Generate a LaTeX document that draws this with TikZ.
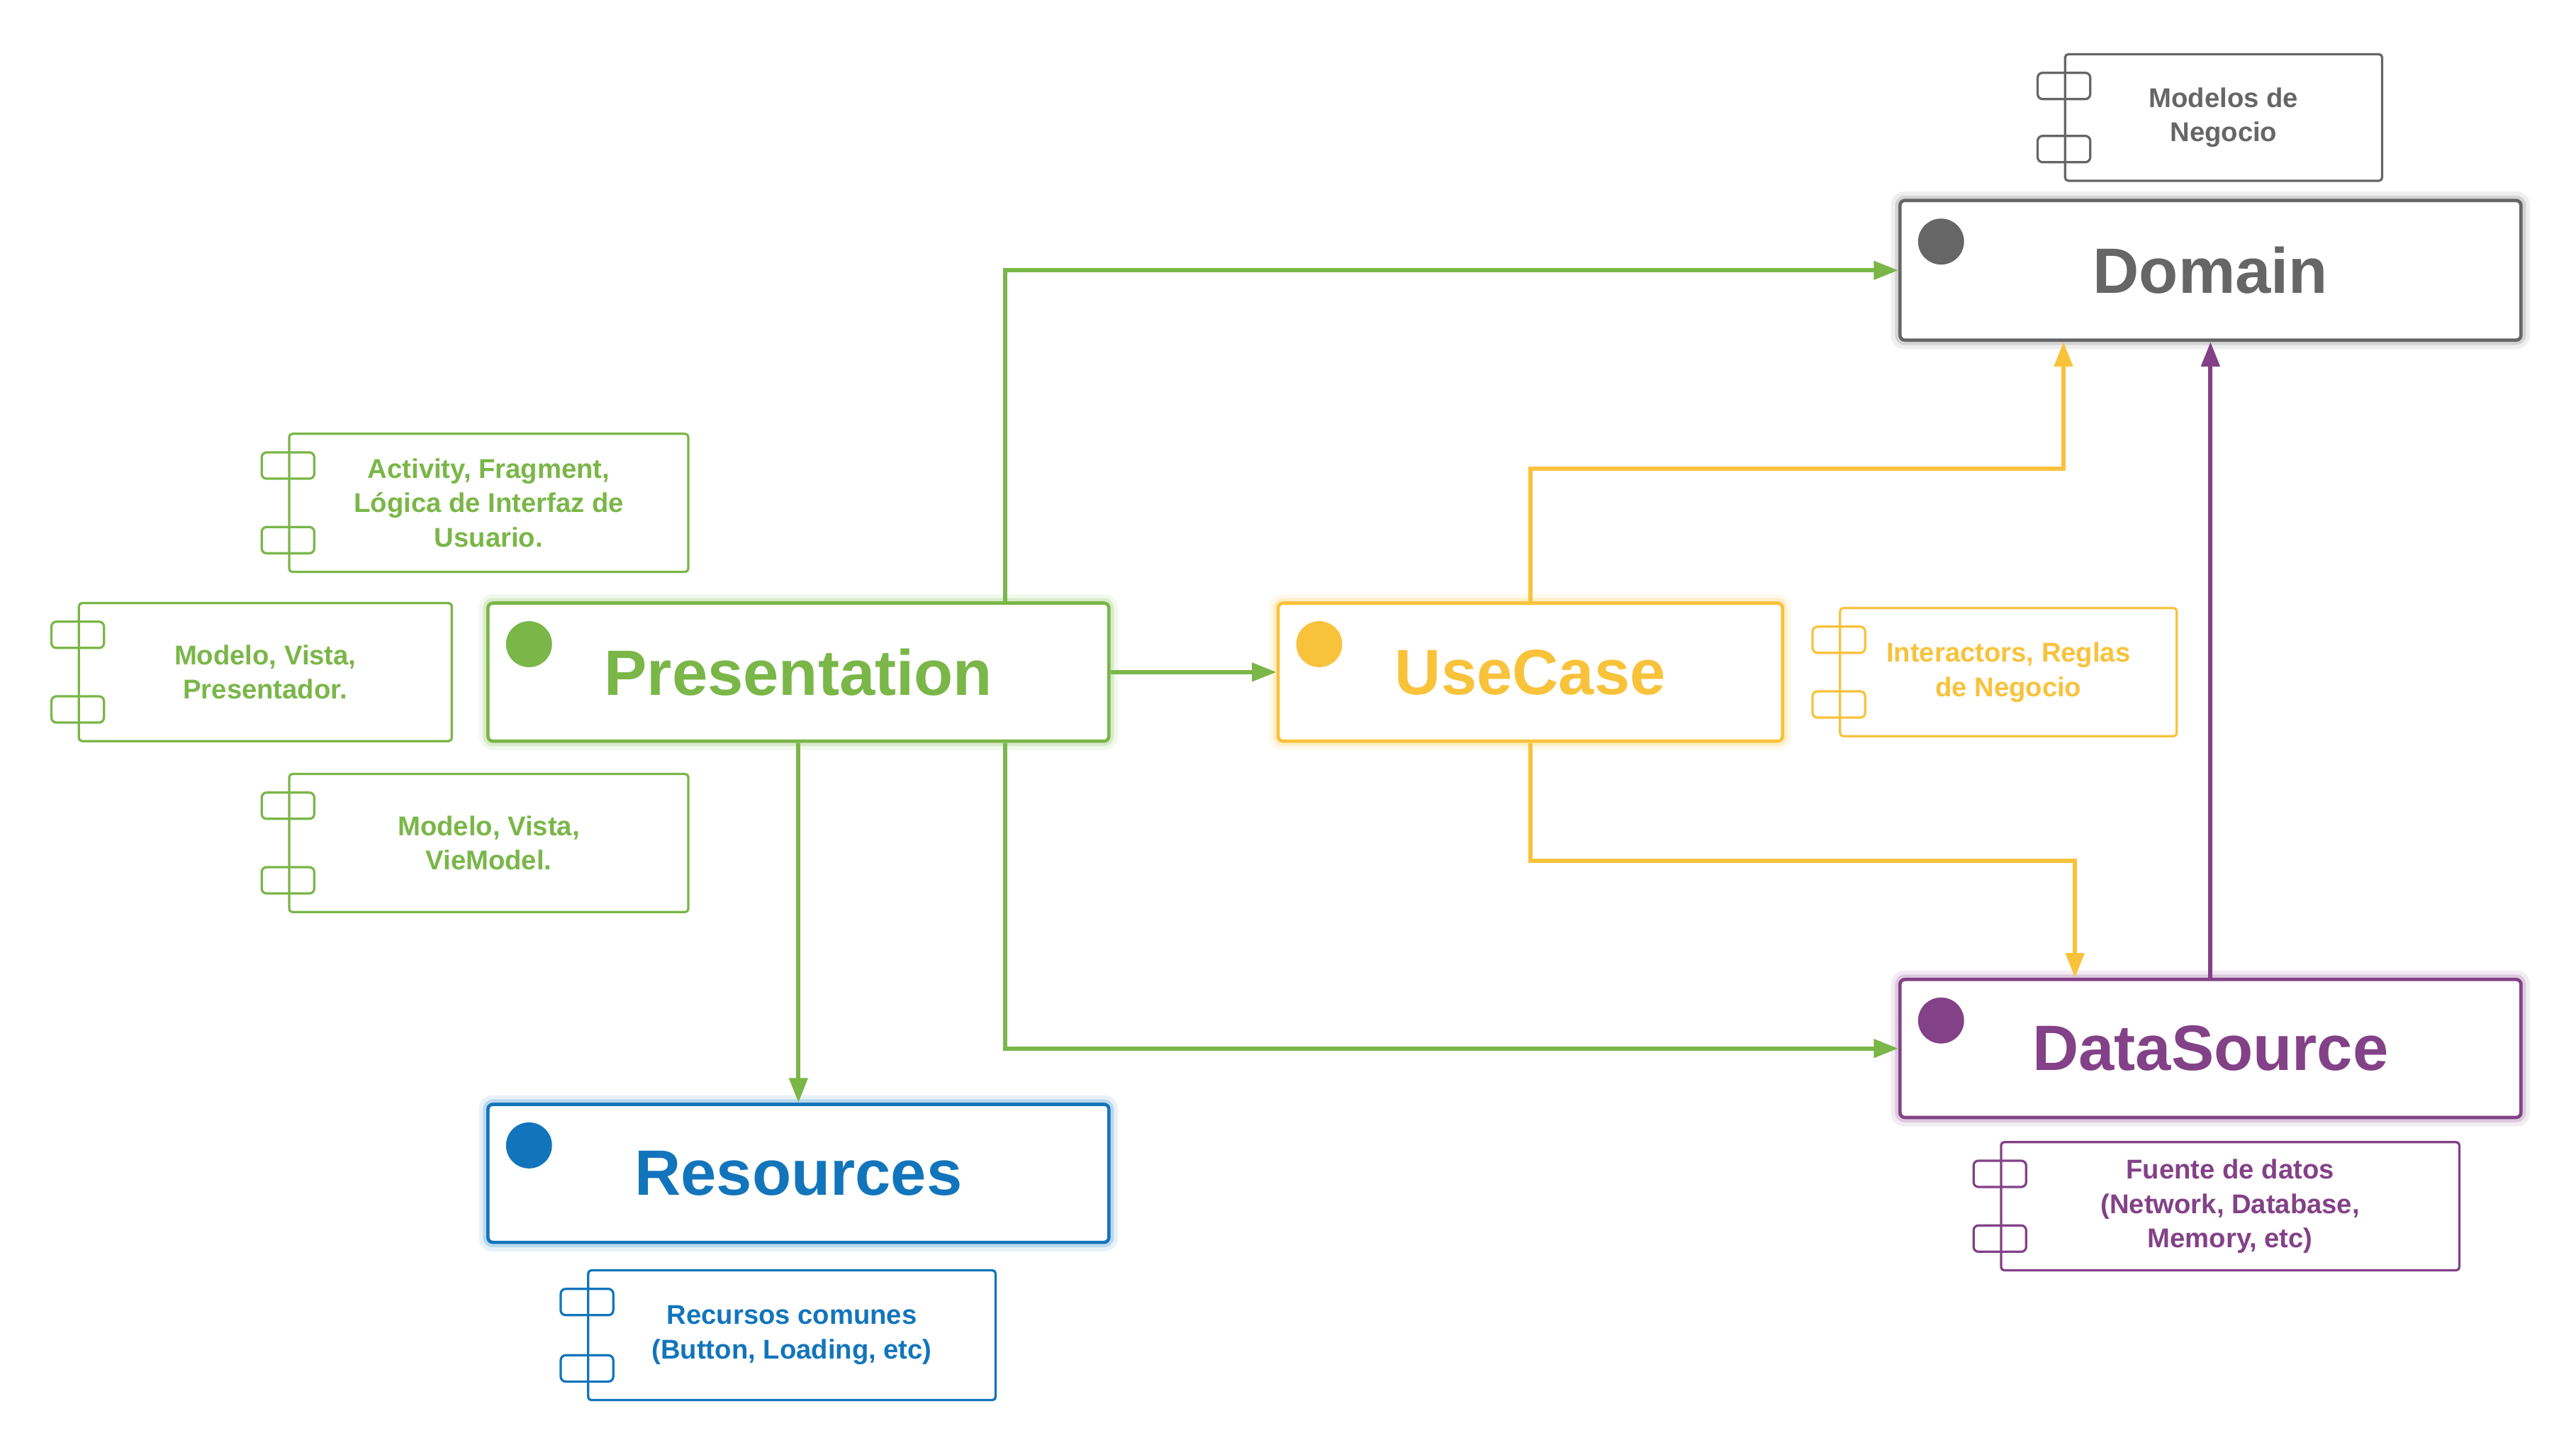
\documentclass[tikz,border=0pt]{standalone}
\usepackage{fontspec}
\setmainfont{Liberation Sans}
\usepackage{tikz}
\usetikzlibrary{positioning, arrows.meta, shapes.geometric}
\definecolor{prgreen}{HTML}{7AB648}
\definecolor{ucyellow}{HTML}{F8C23B}
\definecolor{dsviolet}{HTML}{834187}
\definecolor{resblue}{HTML}{1275BB}
\definecolor{domgray}{HTML}{666666}
\tikzset{
    layer/.style={rectangle, rounded corners=3pt, draw=#1, fill=white, line width=2pt, text=#1,
        minimum width=378pt, minimum height=84pt, font=\fontsize{39}{44}\selectfont\bfseries},
    glow/.style={preaction={draw=#1, line width=11pt, opacity=0.10},
        preaction={draw=#1, line width=6pt, opacity=0.20}},
    dot/.style={circle, fill=#1, inner sep=0pt, minimum size=28pt},
    comp/.style={rectangle, rounded corners=2pt, draw=#1, line width=1.4pt, text=#1, align=center,
        inner sep=0pt, font=\fontsize{16.5}{21}\selectfont\bfseries},
    tab/.style={draw=#1, line width=1.4pt, rounded corners=3pt},
    flow/.style={draw=#1, line width=2.6pt, -{Triangle[length=15pt, width=11pt]}},
}
\newcommand{\comptabs}[2]{%
    \draw[tab=#2] ([xshift=-16pt, yshift=-12pt]#1.north west) rectangle ++(32,16);
    \draw[tab=#2] ([xshift=-16pt, yshift=12pt]#1.south west) rectangle ++(32,-16);
}
\newcommand{\layerdot}[2]{%
    \node[dot=#2] at ([xshift=26pt, yshift=-26pt]#1.north west) {};
}
\begin{document}
\begin{tikzpicture}[x=1pt, y=-1pt]
    \useasboundingbox (0,0) rectangle (1568,885);
    % layers
    \node [layer=prgreen, glow=prgreen] (pres) at (486,409) {Presentation};
    \node [layer=ucyellow, glow=ucyellow, minimum width=307pt] (uc) at (931.5,409) {UseCase};
    \node [layer=domgray, glow=domgray, minimum height=85pt] (dom) at (1345.5,164.5) {Domain};
    \node [layer=dsviolet, glow=dsviolet] (data) at (1345.5,638) {DataSource};
    \node [layer=resblue, glow=resblue] (res) at (486,714) {Resources};
    \layerdot{pres}{prgreen}
    \layerdot{uc}{ucyellow}
    \layerdot{dom}{domgray}
    \layerdot{data}{dsviolet}
    \layerdot{res}{resblue}
    % components
    \node [comp=prgreen, minimum width=243pt, minimum height=84pt] (acts) at (297.5,306)
        {Activity, Fragment,\\Lógica de Interfaz de\\Usuario.};
    \node [comp=prgreen, minimum width=227pt, minimum height=84pt] (mvp) at (161.5,409)
        {Modelo, Vista,\\Presentador.};
    \node [comp=prgreen, minimum width=243pt, minimum height=84pt] (mvvm) at (297.5,513)
        {Modelo, Vista,\\VieModel.};
    \node [comp=domgray, minimum width=193pt, minimum height=77pt] (models) at (1353.5,71.5)
        {Modelos de\\Negocio};
    \node [comp=ucyellow, minimum width=205pt, minimum height=78pt] (rules) at (1222.5,409)
        {Interactors, Reglas\\de Negocio};
    \node [comp=dsviolet, minimum width=279pt, minimum height=78pt] (sources) at (1357.5,734)
        {Fuente de datos\\(Network, Database,\\Memory, etc)};
    \node [comp=resblue, minimum width=248pt, minimum height=79pt] (common) at (482,812.5)
        {Recursos comunes\\(Button, Loading, etc)};
    \comptabs{acts}{prgreen}
    \comptabs{mvp}{prgreen}
    \comptabs{mvvm}{prgreen}
    \comptabs{models}{domgray}
    \comptabs{rules}{ucyellow}
    \comptabs{sources}{dsviolet}
    \comptabs{common}{resblue}
    % dependencies
    \draw [flow=prgreen] ([xshift=126pt]pres.north) |- (dom.west);
    \draw [flow=prgreen] (pres.east) -- (uc.west);
    \draw [flow=prgreen] (pres.south) -- (res.north);
    \draw [flow=prgreen] ([xshift=126pt]pres.south) |- (data.west);
    \draw [flow=ucyellow] (uc.north) -- ++(0,-81) -| ([xshift=-89.5pt]dom.south);
    \draw [flow=ucyellow] (uc.south) -- ++(0,72) -| ([xshift=-82.5pt]data.north);
    \draw [flow=dsviolet] (data.north) -- (dom.south);
\end{tikzpicture}
\end{document}
